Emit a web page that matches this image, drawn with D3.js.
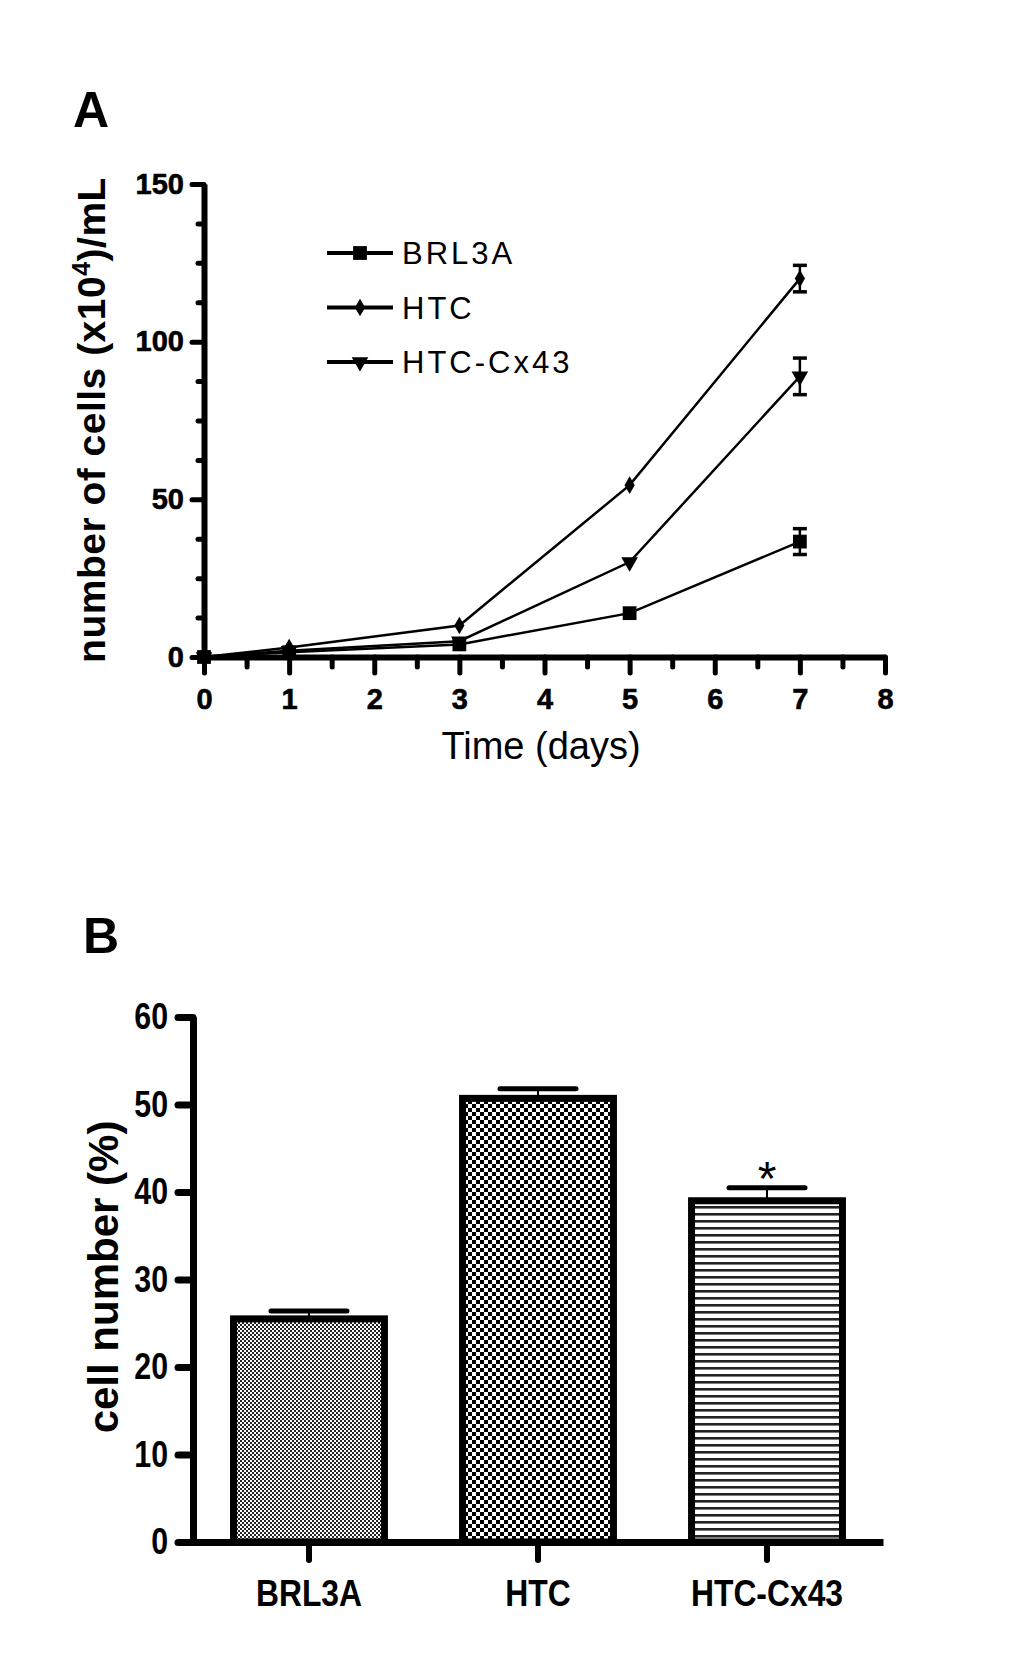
<!DOCTYPE html>
<html>
<head>
  <meta charset="utf-8">
  <title>Cell growth and cell number</title>
  <script src="https://d3js.org/d3.v7.min.js"></script>
  <style>
    body { margin: 0; background: #fff; }
    text { font-family: Arial, "Liberation Sans", sans-serif; fill: #000; }
  </style>
</head>
<body>
  <svg id="screen"></svg>

  <script>
    // ---- panel A data: growth curves (x10^4 cells/mL)
    const days = [0, 1, 3, 5, 7]
    const brl3a = [0, 1.5, 4, 13.9, 36.6]
    const htc = [0, 3, 10, 54.5, 120]
    const htcCx43 = [0, 2, 5, 30.1, 89]
    const brl3aErr = [0, 0.3, 0.5, 1, 4.1]
    const htcErr = [0, 0.3, 0.6, 1.2, 4.2]
    const htcCx43Err = [0, 0.3, 0.5, 1.2, 5.8]
    const seriesNames = ['BRL3A', 'HTC', 'HTC-Cx43']

    const xTicksA = [0, 1, 2, 3, 4, 5, 6, 7, 8]
    const xMinorA = [0.5, 1.5, 2.5, 3.5, 4.5, 5.5, 6.5, 7.5]
    const yTicksA = [0, 50, 100, 150]
    const yMinorA = [12.5, 25, 37.5, 62.5, 75, 87.5, 112.5, 125, 137.5]

    // ---- panel B data: cell number (%)
    const groups = ['BRL3A', 'HTC', 'HTC-Cx43']
    const pct = [25.5, 50.7, 39.0]
    const pctErr = [0.9, 1.1, 1.5]
    const yTicksB = [0, 10, 20, 30, 40, 50, 60]

    const svg = d3.select('#screen').attr('width', 1022).attr('height', 1662)

    // squeeze text horizontally, the figure uses a narrow face
    function narrow(sel, k) {
      sel.each(function () {
        const len = this.getComputedTextLength()
        d3.select(this).attr('textLength', len * k).attr('lengthAdjust', 'spacingAndGlyphs')
      })
    }

    function styleAxis(g, domainW, tickW) {
      g.attr('font-family', null).attr('font-size', null)
      g.select('.domain').attr('stroke-width', domainW)
      g.selectAll('.tick line').attr('stroke-width', tickW).attr('stroke-linecap', 'round')
    }

    // ================= panel A =================
    const xA = d3.scaleLinear().domain([0, 8]).range([204, 885])
    const yA = d3.scaleLinear().domain([0, 150]).range([657, 184])

    svg.append('text').attr('x', 73).attr('y', 127)
      .attr('font-size', 50).attr('font-weight', 'bold').text('A')

    const gA = svg.append('g')

    // minor ticks first
    gA.append('g').attr('transform', `translate(0,${yA(0)})`)
      .call(d3.axisBottom(xA).tickValues(xMinorA).tickSize(10).tickFormat(''))
      .call(styleAxis, 0, 5)
      .select('.domain').remove()
    gA.append('g').attr('transform', `translate(${xA(0)},0)`)
      .call(d3.axisLeft(yA).tickValues(yMinorA).tickSize(6).tickFormat(''))
      .call(styleAxis, 0, 5)
      .select('.domain').remove()

    gA.append('g').attr('transform', `translate(0,${yA(0)})`)
      .call(d3.axisBottom(xA).tickValues(xTicksA).tickSize(16).tickPadding(15).tickSizeOuter(0))
      .call(styleAxis, 6, 5)
      .selectAll('text').attr('font-size', 29).attr('font-weight', 'bold')
      .attr('stroke', '#000').attr('stroke-width', 0.6)

    gA.append('g').attr('transform', `translate(${xA(0)},0)`)
      .call(d3.axisLeft(yA).tickValues(yTicksA).tickSize(12).tickPadding(8).tickSizeOuter(0))
      .call(styleAxis, 6, 5)
      .selectAll('text').attr('font-size', 29).attr('font-weight', 'bold')
      .attr('stroke', '#000').attr('stroke-width', 0.6)

    // axis titles
    const yTitleA = svg.append('text')
      .attr('transform', 'translate(105,420) rotate(-90)')
      .attr('text-anchor', 'middle').attr('font-size', 39).attr('font-weight', 'bold')
      .attr('letter-spacing', 0.5)
    yTitleA.append('tspan').text('number of cells (x10')
    yTitleA.append('tspan').attr('font-size', 25).attr('dy', -15).text('4')
    yTitleA.append('tspan').attr('dy', 15).text(')/mL')

    svg.append('text').attr('x', 541).attr('y', 759)
      .attr('text-anchor', 'middle').attr('font-size', 38).text('Time (days)')

    // series
    const symSquare = d3.symbol().type(d3.symbolSquare).size(190)
    const symDiamond = d3.symbol().type(d3.symbolDiamond).size(90)
    const symTriangle = d3.symbol().type(d3.symbolTriangle).size(120)

    const seriesA = [
      { name: seriesNames[0], values: brl3a, err: brl3aErr, sym: symSquare, rot: 0 },
      { name: seriesNames[1], values: htc, err: htcErr, sym: symDiamond, rot: 0 },
      { name: seriesNames[2], values: htcCx43, err: htcCx43Err, sym: symTriangle, rot: 180 }
    ]

    const line = d3.line().x((d, i) => xA(days[i])).y(d => yA(d))

    seriesA.forEach(s => {
      const g = gA.append('g')
      g.append('path').attr('d', line(s.values))
        .attr('fill', 'none').attr('stroke', '#000').attr('stroke-width', 2.5)

      s.values.forEach((v, i) => {
        if (s.err[i] < 1.5) return
        const x = xA(days[i])
        g.append('line').attr('x1', x).attr('x2', x)
          .attr('y1', yA(v - s.err[i])).attr('y2', yA(v + s.err[i]))
          .attr('stroke', '#000').attr('stroke-width', 2.5)
        ;[v - s.err[i], v + s.err[i]].forEach(e => {
          g.append('line').attr('x1', x - 7).attr('x2', x + 7)
            .attr('y1', yA(e)).attr('y2', yA(e))
            .attr('stroke', '#000').attr('stroke-width', 3.5)
        })
      })

      g.selectAll('path.mark').data(s.values).join('path').attr('class', 'mark')
        .attr('d', s.sym())
        .attr('transform', (d, i) => `translate(${xA(days[i])},${yA(d)}) rotate(${s.rot})`)
        .attr('fill', '#000')
    })

    // legend
    const legA = gA.append('g')
    seriesA.forEach((s, i) => {
      const ly = 253 + i * 54.5
      legA.append('line').attr('x1', 327).attr('x2', 393).attr('y1', ly).attr('y2', ly)
        .attr('stroke', '#000').attr('stroke-width', 4)
      legA.append('path').attr('d', s.sym())
        .attr('transform', `translate(360,${ly}) rotate(${s.rot})`).attr('fill', '#000')
      legA.append('text').attr('x', 402).attr('y', ly + 11)
        .attr('font-size', 31).attr('letter-spacing', 3).text(s.name)
    })

    // ================= panel B =================
    const xB = d3.scaleBand().domain(groups).range([193, 883])
      .paddingInner(0.341).paddingOuter(0.177)
    const yB = d3.scaleLinear().domain([0, 60]).range([1542, 1017])

    svg.append('text').attr('x', 83).attr('y', 953)
      .attr('font-size', 50).attr('font-weight', 'bold').text('B')

    const defs = svg.append('defs')
    const fine = defs.append('pattern').attr('id', 'fineDots')
      .attr('patternUnits', 'userSpaceOnUse').attr('width', 4).attr('height', 4)
    fine.append('rect').attr('width', 4).attr('height', 4).attr('fill', '#fff')
    fine.append('rect').attr('width', 2).attr('height', 2).attr('fill', '#222')
    fine.append('rect').attr('x', 2).attr('y', 2).attr('width', 2).attr('height', 2).attr('fill', '#222')

    const checker = defs.append('pattern').attr('id', 'checker')
      .attr('patternUnits', 'userSpaceOnUse').attr('width', 8).attr('height', 8)
    checker.append('rect').attr('width', 8).attr('height', 8).attr('fill', '#fff')
    checker.append('rect').attr('width', 4).attr('height', 4).attr('fill', '#000')
    checker.append('rect').attr('x', 4).attr('y', 4).attr('width', 4).attr('height', 4).attr('fill', '#000')

    const stripes = defs.append('pattern').attr('id', 'stripes')
      .attr('patternUnits', 'userSpaceOnUse').attr('width', 8).attr('height', 7)
    stripes.append('rect').attr('width', 8).attr('height', 7).attr('fill', '#fff')
    stripes.append('rect').attr('y', 2).attr('width', 8).attr('height', 2.6).attr('fill', '#222')

    const fills = ['url(#fineDots)', 'url(#checker)', 'url(#stripes)']

    const gB = svg.append('g')

    // error bars (upper half, drawn behind the bar outline)
    groups.forEach((c, i) => {
      const cx = xB(c) + xB.bandwidth() / 2
      gB.append('line').attr('x1', cx).attr('x2', cx)
        .attr('y1', yB(pct[i])).attr('y2', yB(pct[i] + pctErr[i]))
        .attr('stroke', '#000').attr('stroke-width', 2)
      gB.append('line').attr('x1', cx - 38).attr('x2', cx + 38)
        .attr('y1', yB(pct[i] + pctErr[i])).attr('y2', yB(pct[i] + pctErr[i]))
        .attr('stroke', '#000').attr('stroke-width', 5).attr('stroke-linecap', 'round')
    })

    gB.selectAll('rect.bar').data(groups).join('rect').attr('class', 'bar')
      .attr('x', d => xB(d))
      .attr('width', xB.bandwidth())
      .attr('y', (d, i) => yB(pct[i]))
      .attr('height', (d, i) => yB(0) - yB(pct[i]))
      .attr('fill', (d, i) => fills[i])
      .attr('stroke', '#000').attr('stroke-width', 7)

    // significance mark
    gB.append('text')
      .attr('x', xB('HTC-Cx43') + xB.bandwidth() / 2)
      .attr('y', 1195)
      .attr('text-anchor', 'middle').attr('font-size', 48).text('*')

    gB.append('g').attr('transform', `translate(0,${yB(0)})`)
      .call(d3.axisBottom(xB).tickSize(18).tickPadding(20).tickSizeOuter(0))
      .call(styleAxis, 7, 6)
      .selectAll('text').attr('font-size', 37).attr('font-weight', 'bold')
      .call(narrow, 0.86)

    gB.append('g').attr('transform', `translate(193,0)`)
      .call(d3.axisLeft(yB).tickValues(yTicksB).tickSize(15).tickPadding(10).tickSizeOuter(0))
      .call(styleAxis, 7, 7)
      .selectAll('text').attr('font-size', 37).attr('font-weight', 'bold')
      .call(narrow, 0.82)

    svg.append('text')
      .attr('transform', 'translate(118,1277) rotate(-90)')
      .attr('text-anchor', 'middle').attr('font-size', 42).attr('font-weight', 'bold')
      .text('cell number (%)')
  </script>
</body>
</html>
